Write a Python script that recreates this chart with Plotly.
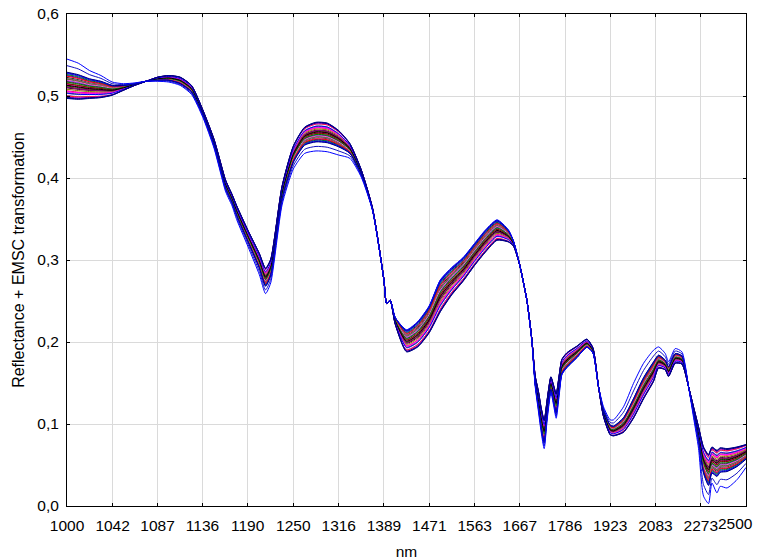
import plotly.graph_objects as go

wavelength_nm = [1000.0, 1010.1, 1020.4, 1030.9, 1041.7, 1052.6, 1063.8, 1075.3, 1087.0, 1098.9,
                 1111.1, 1123.6, 1136.4, 1149.4, 1162.8, 1167.1, 1170.8, 1176.5, 1190.5, 1204.8,
                 1212.8, 1219.5, 1234.6, 1250.0, 1265.8, 1282.1, 1298.7, 1315.8, 1333.3, 1351.4,
                 1369.9, 1388.9, 1393.6, 1399.6, 1408.4, 1428.6, 1449.3, 1470.6, 1492.5, 1515.2,
                 1538.5, 1562.5, 1587.3, 1612.9, 1639.3, 1651.6, 1666.7, 1684.5, 1697.2, 1705.6,
                 1714.1, 1721.2, 1729.1, 1737.0, 1747.0, 1754.6, 1761.4, 1769.7, 1777.1, 1791.3,
                 1820.0, 1849.8, 1868.1, 1885.6, 1901.4, 1923.1, 1933.9, 1967.6, 2002.4, 2038.5,
                 2075.9, 2095.1, 2121.4, 2134.7, 2162.0, 2190.0, 2218.4, 2240.3, 2262.8, 2285.6,
                 2309.0, 2325.0, 2349.2, 2365.4, 2399.0, 2451.0, 2500.0]

# Mean spectrum of the bundle
mean_spectrum = [0.513, 0.511, 0.509, 0.508, 0.507, 0.510, 0.514, 0.518, 0.521, 0.522,
                 0.519, 0.509, 0.480, 0.443, 0.393, 0.383, 0.375, 0.360, 0.329, 0.299,
                 0.279, 0.291, 0.382, 0.429, 0.451, 0.456, 0.455, 0.448, 0.436, 0.407,
                 0.362, 0.276, 0.247, 0.251, 0.226, 0.201, 0.209, 0.227, 0.256, 0.2735,
                 0.288, 0.306, 0.323, 0.336, 0.329, 0.320, 0.294, 0.251, 0.2024, 0.154,
                 0.130, 0.108, 0.091, 0.120, 0.1496, 0.137, 0.125, 0.150, 0.170, 0.178,
                 0.188, 0.1985, 0.190, 0.1455, 0.113, 0.0927, 0.0915, 0.0988, 0.119, 0.1435,
                 0.1638, 0.176, 0.172, 0.164, 0.180, 0.178, 0.1455, 0.117, 0.0886, 0.056,
                 0.044, 0.056, 0.052, 0.056, 0.056, 0.060, 0.066]

# Signed half-width of the bundle (positive: the first samples lie above the mean)
half_spread = [0.016, 0.015, 0.012, 0.010, 0.006, 0.003, 0.001, 0.0, -0.002, -0.003,
               -0.004, -0.004, -0.003, -0.004, -0.005, -0.005, -0.005, -0.006, -0.007, -0.009,
               -0.011, -0.010, -0.008, -0.010, -0.011, -0.012, -0.012, -0.010, -0.006, -0.003,
               -0.001, 0.0, 0.0, 0.0, 0.004, 0.013, 0.015, 0.016, 0.019, 0.016,
               0.014, 0.013, 0.013, 0.012, 0.007, 0.003, 0.0, 0.0, 0.0, -0.005,
               -0.010, -0.012, -0.014, -0.010, -0.008, -0.010, -0.012, -0.010, -0.009, -0.009,
               -0.007, -0.005, -0.003, 0.0, 0.004, 0.006, 0.006, 0.009, 0.012, 0.013,
               0.012, 0.008, 0.006, 0.006, 0.006, 0.005, 0.0, -0.004, -0.008, -0.016,
               -0.019, -0.016, -0.016, -0.015, -0.014, -0.012, -0.009]

# The outlying (blue) sample
outlier_spectrum = [0.545, 0.540, 0.531, 0.525, 0.517, 0.515, 0.516, 0.518, 0.518, 0.517,
                    0.513, 0.502, 0.474, 0.436, 0.384, 0.374, 0.366, 0.349, 0.316, 0.282,
                    0.259, 0.272, 0.367, 0.411, 0.430, 0.433, 0.432, 0.428, 0.424, 0.401,
                    0.360, 0.276, 0.247, 0.251, 0.230, 0.215, 0.225, 0.244, 0.276, 0.291,
                    0.303, 0.320, 0.337, 0.349, 0.337, 0.323, 0.294, 0.251, 0.200, 0.146,
                    0.115, 0.090, 0.070, 0.105, 0.138, 0.122, 0.107, 0.135, 0.160, 0.169,
                    0.181, 0.194, 0.187, 0.1455, 0.121, 0.105, 0.105, 0.121, 0.1496, 0.174,
                    0.190, 0.194, 0.186, 0.176, 0.192, 0.188, 0.1455, 0.108, 0.070, 0.012,
                    0.003, 0.028, 0.016, 0.024, 0.022, 0.032, 0.047]

# Position of each regular sample inside the bundle (in half-widths from the mean)
sample_position = [0.02, -0.05, 0.08, -0.12, 0.15, -0.2, 0.22, -0.28, 0.3, -0.35,
                   0.38, -0.42, 0.45, -0.5, 0.52, -0.58, 0.6, -0.66, 0.68, -0.75,
                   0.75, -0.82, 0.82, -0.88, 0.12, -0.3, 0.55, -0.7, 0.4, -0.15,
                   0.7, -0.45, 0.25, 0.0, -0.6, 0.9, -0.92, 0.96, -0.97, 1.0, -1.0]

sample_color = ["#FF0000", "#008000", "#FF00FF", "#800000", "#808000", "#000000", "#808080",
                "#FF66CC", "#800080", "#FFFFFF", "#0000FF", "#FF0000", "#008000", "#FF00FF",
                "#800000", "#808000", "#000000", "#808080", "#FF66CC", "#800080", "#0000FF",
                "#FF0000", "#008000", "#FF00FF", "#800000", "#808000", "#808080", "#FFFFFF",
                "#FF66CC", "#800080", "#FF0000", "#FF00FF", "#008000", "#000000", "#0000FF",
                "#0000CC", "#000080", "#0000FF", "#000080", "#000080", "#00008B"]

outlier_colors = ["#0000FF", "#1010C0"]

x_tick_labels = ["1000", "1042", "1087", "1136", "1190", "1250", "1316", "1389", "1471",
                 "1563", "1667", "1786", "1923", "2083", "2273", "2500"]
y_ticks = [0.0, 0.1, 0.2, 0.3, 0.4, 0.5, 0.6]

FONT = "Liberation Sans, Arial, sans-serif"

# The axis is linear in wavenumber (1e7 / nm), as in the source chart
x_wn = [1e7 / w for w in wavelength_nm]

fig = go.Figure()
for pos, col in zip(sample_position, sample_color):
    yv = [m + pos * h for m, h in zip(mean_spectrum, half_spread)]
    fig.add_trace(go.Scatter(x=x_wn, y=yv, mode="lines",
                             line=dict(color=col, width=1, shape="spline", smoothing=0.6),
                             showlegend=False, hoverinfo="skip"))

# the outlier sample and a near-duplicate of it halfway toward the bundle edge
edge = [m + h for m, h in zip(mean_spectrum, half_spread)]
second = [(o + e) / 2 for o, e in zip(outlier_spectrum, edge)]
for yv, col in zip([second, outlier_spectrum], outlier_colors[::-1]):
    fig.add_trace(go.Scatter(x=x_wn, y=yv, mode="lines",
                             line=dict(color=col, width=1, shape="spline", smoothing=0.6),
                             showlegend=False, hoverinfo="skip"))

tickvals = [1e7 / float(t) for t in x_tick_labels]
ticktext = x_tick_labels[:-1] + [""]

fig.update_layout(
    width=758, height=560,
    margin=dict(l=67, r=12, t=14, b=54),
    paper_bgcolor="white", plot_bgcolor="white",
    separators=", ",
    font=dict(family=FONT, size=15.5, color="black"),
    showlegend=False,
)
fig.update_xaxes(
    range=[1e7 / 1000, 1e7 / 2500], automargin=False,
    tickmode="array", tickvals=tickvals, ticktext=ticktext,
    showgrid=True, gridcolor="#dadada", gridwidth=1,
    showline=True, linecolor="black", linewidth=1, mirror="ticks",
    ticks="inside", ticklen=3, tickcolor="black", ticklabelstandoff=5,
    zeroline=False,
    title=dict(text="nm", standoff=16, font=dict(size=15.5)),
)
fig.update_yaxes(
    range=[0, 0.6], automargin=False,
    tickmode="array", tickvals=y_ticks, tickformat=".1f",
    showgrid=True, gridcolor="#dadada", gridwidth=1,
    showline=True, linecolor="black", linewidth=1, mirror="ticks",
    ticks="inside", ticklen=3, tickcolor="black", ticklabelstandoff=4,
    zeroline=False,
    title=dict(text="Reflectance + EMSC transformation", standoff=8, font=dict(size=16)),
)
fig.add_annotation(x=1e7 / 2500, y=0, xref="x", yref="paper",
                   text=x_tick_labels[-1], showarrow=False,
                   xanchor="right", yanchor="top", xshift=9, yshift=-7,
                   font=dict(family=FONT, size=15.5, color="black"))

fig.write_html("out.html")
